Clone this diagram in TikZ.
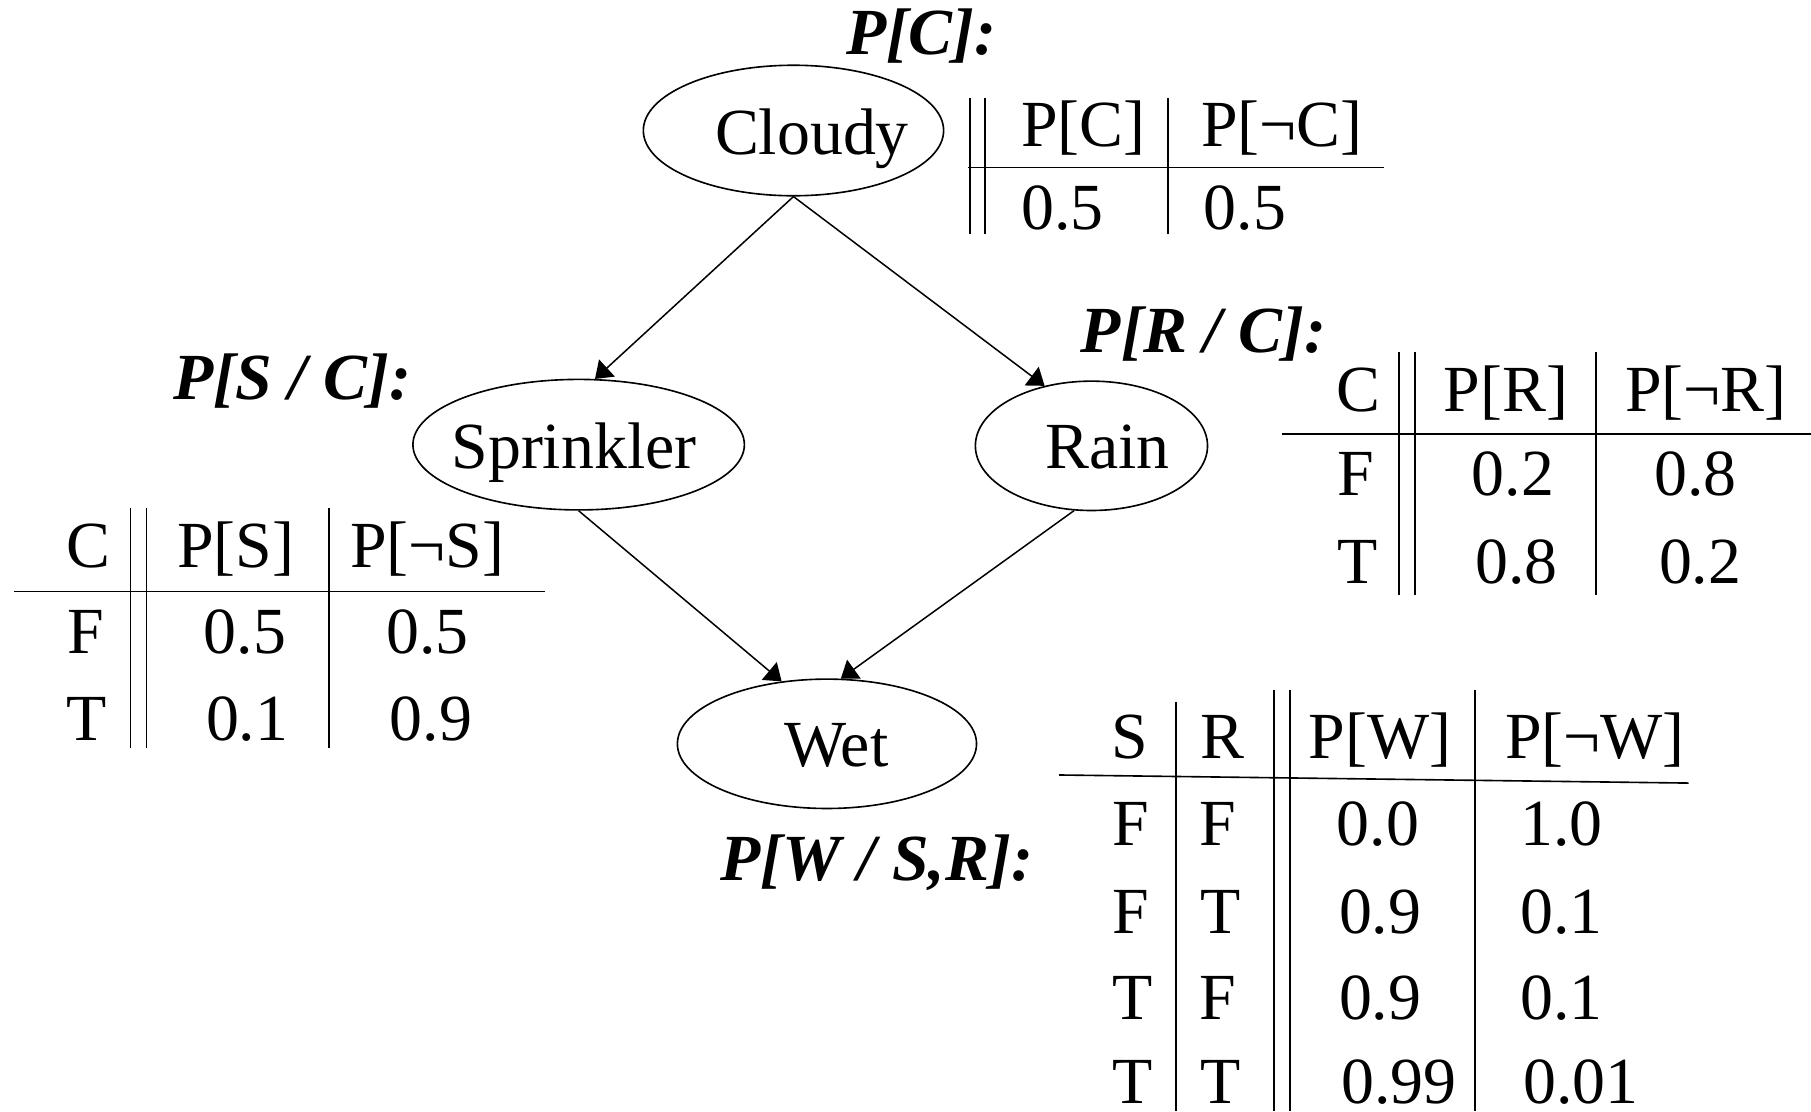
\documentclass[tikz,border=0pt]{standalone}
\usepackage{fontspec}
\setmainfont{Liberation Serif}
\usetikzlibrary{arrows.meta,shapes.geometric}

\tikzset{
  var/.style={draw, ellipse, line width=0.7pt, inner sep=0pt},
  vartext/.style={font=\fontsize{28.5}{30}\selectfont, anchor=base, inner sep=0pt},
  cpt/.style={font=\fontsize{28.5}{30}\selectfont\bfseries\itshape, anchor=base, inner sep=0pt},
  cell/.style={font=\fontsize{28.5}{30}\selectfont, anchor=base, inner sep=0pt},
  rule/.style={line width=0.7pt},
  link/.style={line width=0.65pt, -{Triangle[length=7pt,width=10pt]}}
}

\begin{document}
\begin{tikzpicture}[x=0.5pt, y=-0.5pt]
\path[use as bounding box] (0,0) rectangle (1568,962);

% --- network variables ---
\node[var, minimum width=130pt, minimum height=56.5pt] (cloudy) at (687,113) {};
\node[var, minimum width=143.5pt, minimum height=56.5pt] (sprinkler) at (501,385) {};
\node[var, minimum width=100.5pt, minimum height=56pt] (rain) at (945,386) {};
\node[var, minimum width=129.5pt, minimum height=56pt] (wet) at (716,644) {};

\node[vartext] (cloudyt) at (703,134) {Cloudy};
\node[vartext] (sprinklert) at (497,406) {Sprinkler};
\node[vartext] (raint) at (959,406) {Rain};
\node[vartext] (wett) at (724,664) {Wet};

% --- dependencies ---
\draw[link] (cloudy.south) -- (sprinkler.76);
\draw[link] (cloudy.south) -- (rain.128);
\draw[link] (sprinkler.south) -- (wet.126);
\draw[link] (rain.-105) -- (wet.78);

% --- table titles ---
\node[cpt] (tc) at (798,47) {P[C]:};
\node[cpt] (ts) at (253,346) {P[S / C]:};
\node[cpt] (tr) at (1042,305) {P[R / C]:};
\node[cpt] (tw) at (759,762) {P[W / S,R]:};

% --- P[C] table ---
\draw[rule] (840,85) -- (840,203);
\draw[rule] (853,85) -- (853,203);
\draw[rule] (1011,85) -- (1011,203);
\draw[rule] (838,145) -- (1198,145);
\node[cell] (c-h1) at (938,127) {P[C]};
\node[cell] (c-h2) at (1110,127) {P[¬C]};
\node[cell] (c-v1) at (920,199) {0.5};
\node[cell] (c-v2) at (1078,199) {0.5};

% --- P[S / C] table ---
\draw[rule] (113,440) -- (113,648);
\draw[rule] (127,440) -- (127,648);
\draw[rule] (285,440) -- (285,648);
\draw[rule] (12,512) -- (472,512);
\node[cell] (s-h0) at (77,491) {C};
\node[cell] (s-h1) at (204,491) {P[S]};
\node[cell] (s-h2) at (370,491) {P[¬S]};
\node[cell] (s-f0) at (74,566) {F};
\node[cell] (s-f1) at (212,566) {0.5};
\node[cell] (s-f2) at (370,566) {0.5};
\node[cell] (s-t0) at (75,641) {T};
\node[cell] (s-t1) at (214,641) {0.1};
\node[cell] (s-t2) at (373,641) {0.9};

% --- P[R / C] table ---
\draw[rule] (1211,305) -- (1211,515);
\draw[rule] (1225,305) -- (1225,515);
\draw[rule] (1382,305) -- (1382,515);
\draw[rule] (1110,376) -- (1568,376);
\node[cell] (r-h0) at (1176,356) {C};
\node[cell] (r-h1) at (1304,356) {P[R]};
\node[cell] (r-h2) at (1477,356) {P[¬R]};
\node[cell] (r-f0) at (1174,429) {F};
\node[cell] (r-f1) at (1310,429) {0.2};
\node[cell] (r-f2) at (1468,429) {0.8};
\node[cell] (r-t0) at (1175,505) {T};
\node[cell] (r-t1) at (1313,505) {0.8};
\node[cell] (r-t2) at (1472,505) {0.2};

% --- P[W / S,R] table ---
\draw[rule] (1018,608) -- (1018,962);
\draw[rule] (1103,597) -- (1103,962);
\draw[rule] (1117,597) -- (1117,962);
\draw[rule] (1277,597) -- (1277,962);
\draw[rule] (917,671) -- (1462,678);
\node[cell] (w-hs) at (978,657) {S};
\node[cell] (w-hr) at (1058,657) {R};
\node[cell] (w-h1) at (1195,657) {P[W]};
\node[cell] (w-h2) at (1381,657) {P[¬W]};
\node[cell] (w-as) at (979,732) {F};
\node[cell] (w-ar) at (1054,732) {F};
\node[cell] (w-a1) at (1193,732) {0.0};
\node[cell] (w-a2) at (1352,732) {1.0};
\node[cell] (w-bs) at (979,808) {F};
\node[cell] (w-br) at (1057,808) {T};
\node[cell] (w-b1) at (1195,808) {0.9};
\node[cell] (w-b2) at (1352,808) {0.1};
\node[cell] (w-cs) at (981,883) {T};
\node[cell] (w-cr) at (1054,883) {F};
\node[cell] (w-c1) at (1195,883) {0.9};
\node[cell] (w-c2) at (1352,883) {0.1};
\node[cell] (w-ds) at (981,955) {T};
\node[cell] (w-dr) at (1057,955) {T};
\node[cell] (w-d1) at (1211,955) {0.99};
\node[cell] (w-d2) at (1369,955) {0.01};
\end{tikzpicture}
\end{document}
